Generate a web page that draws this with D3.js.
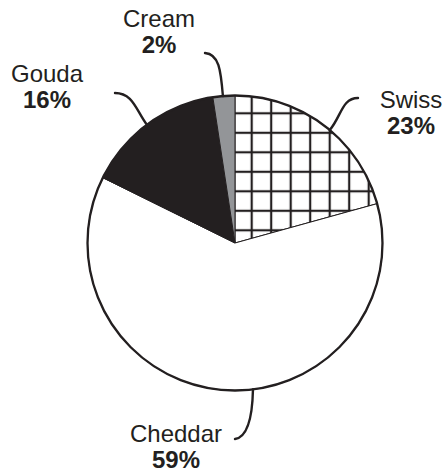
<!DOCTYPE html>
<html>
<head>
<meta charset="utf-8">
<script src="https://cdn.jsdelivr.net/npm/d3@7"></script>
<style>
  html, body { margin: 0; padding: 0; background: #fff; }
  svg { display: block; }
  text { font-family: "Liberation Sans", Arial, Helvetica, sans-serif; fill: #231f20; }
</style>
</head>
<body>
<svg id="chart" width="443" height="471"></svg>
<script>
// ---- data (clockwise from 12 o'clock) ----
const categories = ["Swiss", "Cheddar", "Gouda", "Cream"];
const shares = [20.7, 61.6, 15.3, 2.4];          // slice sizes as drawn
const percentLabels = ["23%", "59%", "16%", "2%"]; // printed labels

// ---- layout / style (not data) ----
const W = 443, H = 471;
const cx = 235, cy = 243, R = 147.5;
const dark = "#231f20";
const fills = ["url(#hatch)", "#ffffff", dark, "#939598"];
// label anchor (middle of text), leader: start point, end angle (deg) on rim, control lengths
const labelLayout = [
  { x: 411, y: 108, lx: 358, ly: 98,  endDeg: 40,   c1: [-16, 0],  c2len: 18 },
  { x: 176, y: 442, lx: 235, ly: 439, endDeg: 173,  c1: [12, -2],  c2len: 28, c2dx: -4 },
  { x: 47,  y: 82,  lx: 115, ly: 93,  endDeg: -36.7, c1: [18, 0],  c2len: 18 },
  { x: 159, y: 27,  lx: 205, ly: 53,  endDeg: -4.7, c1: [14, 1],  c2len: 26 }
];

const svg = d3.select("#chart");
const defs = svg.append("defs");
const step = 19.5;
const pat = defs.append("pattern")
  .attr("id", "hatch")
  .attr("patternUnits", "userSpaceOnUse")
  .attr("x", 250.7 - step / 2).attr("y", 104.3 - step / 2)
  .attr("width", step).attr("height", step);
pat.append("rect").attr("width", step).attr("height", step).attr("fill", "#fff");
pat.append("line").attr("x1", step / 2).attr("x2", step / 2).attr("y1", 0).attr("y2", step)
  .attr("stroke", dark).attr("stroke-width", 2.2);
pat.append("line").attr("y1", step / 2).attr("y2", step / 2).attr("x1", 0).attr("x2", step)
  .attr("stroke", dark).attr("stroke-width", 2.2);

const data = categories.map((c, i) => ({ name: c, value: shares[i], label: percentLabels[i], i }));
const pie = d3.pie().sort(null).value(d => d.value).startAngle(0).endAngle(2 * Math.PI);
const arc = d3.arc().innerRadius(0).outerRadius(R);

const g = svg.append("g").attr("transform", `translate(${cx},${cy})`);
g.selectAll("path.slice")
  .data(pie(data))
  .join("path")
  .attr("class", "slice")
  .attr("d", arc)
  .attr("fill", d => fills[d.data.i])
  .attr("stroke", dark)
  .attr("stroke-width", 1)
  .attr("stroke-linejoin", "round");

g.append("circle").attr("r", R).attr("fill", "none").attr("stroke", dark).attr("stroke-width", 2.3);

// leader lines
data.forEach((d, i) => {
  const L = labelLayout[i];
  const a = L.endDeg * Math.PI / 180;
  const ux = Math.sin(a), uy = -Math.cos(a);
  const ex = cx + R * ux, ey = cy + R * uy;
  const c2x = ex + ux * L.c2len + (L.c2dx || 0), c2y = ey + uy * L.c2len;
  const p = d3.path();
  p.moveTo(L.lx, L.ly);
  p.bezierCurveTo(L.lx + L.c1[0], L.ly + L.c1[1], c2x, c2y, ex, ey);
  svg.append("path").attr("d", p.toString())
    .attr("fill", "none").attr("stroke", dark).attr("stroke-width", 2.4).attr("stroke-linecap", "round");

  const t = svg.append("text").attr("text-anchor", "middle").attr("x", L.x).attr("y", L.y);
  t.append("tspan").attr("x", L.x).attr("font-size", 24).text(d.name);
  t.append("tspan").attr("x", L.x).attr("dy", 25.5).attr("font-size", 24).attr("font-weight", "bold").text(d.label);
});
</script>
</body>
</html>
